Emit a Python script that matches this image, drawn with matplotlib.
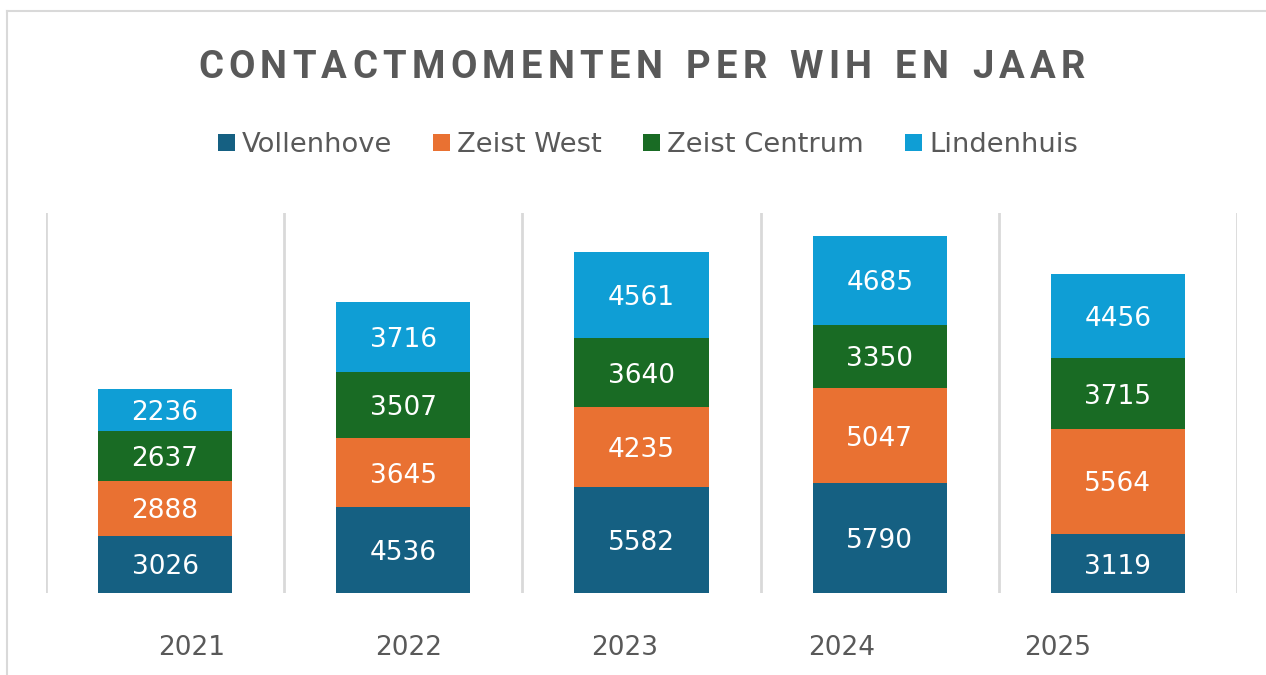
import matplotlib
matplotlib.use("Agg")
import matplotlib.pyplot as plt
from matplotlib.lines import Line2D
from matplotlib.patches import Patch
import numpy as np

years = ["2021", "2022", "2023", "2024", "2025"]
series_names = ["Vollenhove", "Zeist West", "Zeist Centrum", "Lindenhuis"]
vollenhove = [3026, 4536, 5582, 5790, 3119]
zeist_west = [2888, 3645, 4235, 5047, 5564]
zeist_centrum = [2637, 3507, 3640, 3350, 3715]
lindenhuis = [2236, 3716, 4561, 4685, 4456]
colors = ["#156082", "#E97132", "#196B24", "#0F9ED5"]
title = "CONTACTMOMENTEN PER WIH EN JAAR"

plt.rcParams['font.family'] = ['DejaVu Sans']
W, H = 1266, 675
fig = plt.figure(figsize=(W / 100, H / 100), dpi=100)

ax = fig.add_axes([46 / W, (H - 593) / H, (1237 - 46) / W, (593 - 213) / H])
x = np.arange(len(years))
bottom = np.zeros(len(years))
for vals, c in zip([vollenhove, zeist_west, zeist_centrum, lindenhuis], colors):
    ax.bar(x, vals, bottom=bottom, width=0.563, color=c, zorder=3)
    for xi, b, v in zip(x, bottom, vals):
        ax.text(xi, b + v / 2, str(v), ha='center', va='center_baseline',
                color='white', fontsize=19, zorder=4)
    bottom += np.array(vals)

ax.set_xlim(-0.5, len(years) - 0.5)
ax.set_ylim(0, 20090)
for b in np.arange(-0.5, len(years), 1.0):
    ax.axvline(b, color='#d9d9d9', lw=2, zorder=1)
for s in ax.spines.values():
    s.set_visible(False)
ax.set_yticks([])
# category labels are laid out on a slightly narrower pitch than the bars (as in the source)
label_offset, label_step = 0.113, 0.909
ax.set_xticks(label_offset + label_step * x)
ax.set_xticklabels(years, fontsize=19, color='#595959')
ax.tick_params(axis='x', length=0, pad=30)

# frame border
fig.add_artist(Line2D([7 / W, 7 / W], [0, (H - 11) / H], color='#d9d9d9', lw=1.5))
fig.add_artist(Line2D([7 / W, 1], [(H - 11) / H, (H - 11) / H], color='#d9d9d9', lw=1.5))

# title with letter spacing
fig.canvas.draw()
renderer = fig.canvas.get_renderer()
tkw = dict(fontsize=27.5, fontweight='bold', color='#595959', family=['Roboto', 'DejaVu Sans'])
x0, x1 = 198, 1085
widths = []
for ch in title:
    t = fig.text(0, 0, ch if ch != ' ' else 'n', **tkw)
    bb = t.get_window_extent(renderer)
    widths.append(bb.width if ch != ' ' else bb.width * 0.6)
    t.remove()
total = sum(widths)
gap = (x1 - x0 - total) / (len(title) - 1)
cx = x0
ty = (H - 63) / H
for ch, w in zip(title, widths):
    if ch != ' ':
        fig.text(cx / W, ty, ch, ha='left', va='center_baseline', **tkw)
    cx += w + gap

handles = [Patch(facecolor=c, edgecolor='none') for c in colors]
fig.legend(handles, series_names, loc='center', bbox_to_anchor=(648 / W, (H - 145) / H),
           ncol=4, frameon=False, fontsize=19.7, labelcolor='#595959',
           handlelength=0.62, handleheight=0.62, handletextpad=0.26, columnspacing=1.5)

fig.savefig("out.png", dpi=100)
